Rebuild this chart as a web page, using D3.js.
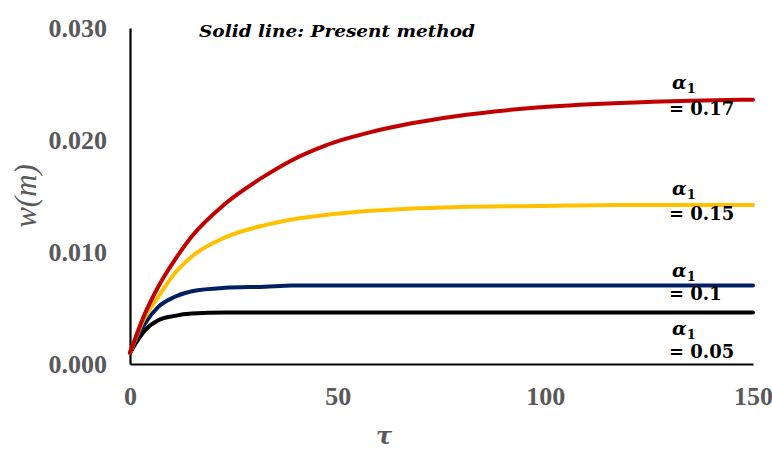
<!DOCTYPE html>
<html>
<head>
<meta charset="utf-8">
<script src="https://cdn.jsdelivr.net/npm/d3@7"></script>
<style>
  html, body { margin: 0; padding: 0; background: #fff; }
  svg { display: block; }
</style>
</head>
<body>
<svg id="chart" width="772" height="449"></svg>
<script>
// Deflection w(m) against non-dimensional time τ for four values of α1
const tau  = [0, 3.6, 6.8, 10.8, 14.9, 22.9, 32.5, 39, 47, 59, 78, 98, 118, 135, 150];
const w005 = [0.0010, 0.0030, 0.0039, 0.0043, 0.0045, 0.0046, 0.0046, 0.0046, 0.0046, 0.0046, 0.0046, 0.0046, 0.0046, 0.0046, 0.0046];
const w010 = [0.0010, 0.0036, 0.0051, 0.0060, 0.0065, 0.0068, 0.0069, 0.0070, 0.0070, 0.0070, 0.0070, 0.0070, 0.0070, 0.0070, 0.0070];
const w015 = [0.0010, 0.0042, 0.0060, 0.0081, 0.0096, 0.0113, 0.0124, 0.0129, 0.0133, 0.0137, 0.0140, 0.0141, 0.0142, 0.0142, 0.0142];
const w017 = [0.0010, 0.0045, 0.0069, 0.0093, 0.0114, 0.0143, 0.0168, 0.0182, 0.0195, 0.0208, 0.0221, 0.0229, 0.0233, 0.0235, 0.0236];

const seriesNames = ["0.05", "0.1", "0.15", "0.17"];
const seriesValues = [w005, w010, w015, w017];
const seriesColors = ["#000000", "#002060", "#FFC000", "#C00000"];

const xTicks = [0, 50, 100, 150];
const yTicks = [0.000, 0.010, 0.020, 0.030];

const svg = d3.select("#chart");
const plotLeft = 130, plotRight = 753, plotTop = 28, plotBottom = 364;

const x = d3.scaleLinear().domain([0, 150]).range([plotLeft, plotRight]);
const y = d3.scaleLinear().domain([0, 0.030]).range([plotBottom, plotTop]);

const tickFont = "'Liberation Serif', 'Times New Roman', serif";
const grey = "#595959";

// axes: only the lines and labels, no tick marks
const xAxis = d3.axisBottom(x).tickValues(xTicks).tickSize(0).tickPadding(23).tickFormat(d3.format("d"));
const yAxis = d3.axisLeft(y).tickValues(yTicks).tickSize(0).tickPadding(23).tickFormat(d3.format(".3f"));

const gx = svg.append("g").attr("transform", `translate(0,${plotBottom})`).call(xAxis);
const gy = svg.append("g").attr("transform", `translate(${plotLeft},0)`).call(yAxis);

[gx, gy].forEach(g => {
  g.select(".domain").attr("stroke", "#000").attr("stroke-width", 2.2);
  g.selectAll("text")
    .attr("fill", grey)
    .style("font-family", tickFont)
    .style("font-weight", "bold")
    .style("font-size", "26px");
});
gy.selectAll("text").attr("dy", "0.33em");
gx.selectAll("text").attr("dy", "0.71em");

// curves
const line = d3.line()
  .x((d, i) => x(tau[i]))
  .y(d => y(d))
  .curve(d3.curveMonotoneX);

seriesValues.forEach((vals, k) => {
  svg.append("path")
    .datum(vals)
    .attr("fill", "none")
    .attr("stroke", seriesColors[k])
    .attr("stroke-width", 4)
    .attr("stroke-linecap", "round")
    .attr("d", line);
});

// series labels at the right end of each curve
const mathFont = "'DejaVu Serif', serif";
const labelPos = [
  { a: 335, v: 358 },
  { a: 277, v: 300 },
  { a: 195, v: 220 },
  { a: 89, v: 115 }
];
seriesNames.forEach((name, k) => {
  const g = svg.append("g");
  const t = g.append("text")
    .attr("x", 672).attr("y", labelPos[k].a)
    .style("font-family", mathFont)
    .style("font-weight", "bold")
    .style("font-size", "19px")
    .attr("fill", "#000");
  t.append("tspan").style("font-style", "italic").text("α");
  t.append("tspan").attr("dy", 4).style("font-size", "13px").text("1");
  g.append("text")
    .attr("x", 669).attr("y", labelPos[k].v)
    .style("font-family", mathFont)
    .style("font-weight", "bold")
    .style("font-size", "18px")
    .attr("fill", "#000")
    .text("= " + name);
});

// annotation
svg.append("text")
  .attr("x", 199).attr("y", 37)
  .attr("textLength", 276)
  .attr("lengthAdjust", "spacingAndGlyphs")
  .style("font-family", mathFont)
  .style("font-weight", "bold")
  .style("font-style", "italic")
  .style("font-size", "17px")
  .attr("fill", "#000")
  .text("Solid line: Present method");

// axis titles
svg.append("text")
  .attr("transform", "translate(36,196) rotate(-90)")
  .attr("text-anchor", "middle")
  .style("font-family", tickFont)
  .style("font-style", "italic")
  .style("font-size", "31px")
  .attr("fill", grey)
  .text("w(m)");

svg.append("text")
  .attr("x", 384).attr("y", 444)
  .attr("text-anchor", "middle")
  .style("font-family", mathFont)
  .style("font-style", "italic")
  .style("font-weight", "bold")
  .style("font-size", "24px")
  .attr("fill", grey)
  .text("τ");
</script>
</body>
</html>
